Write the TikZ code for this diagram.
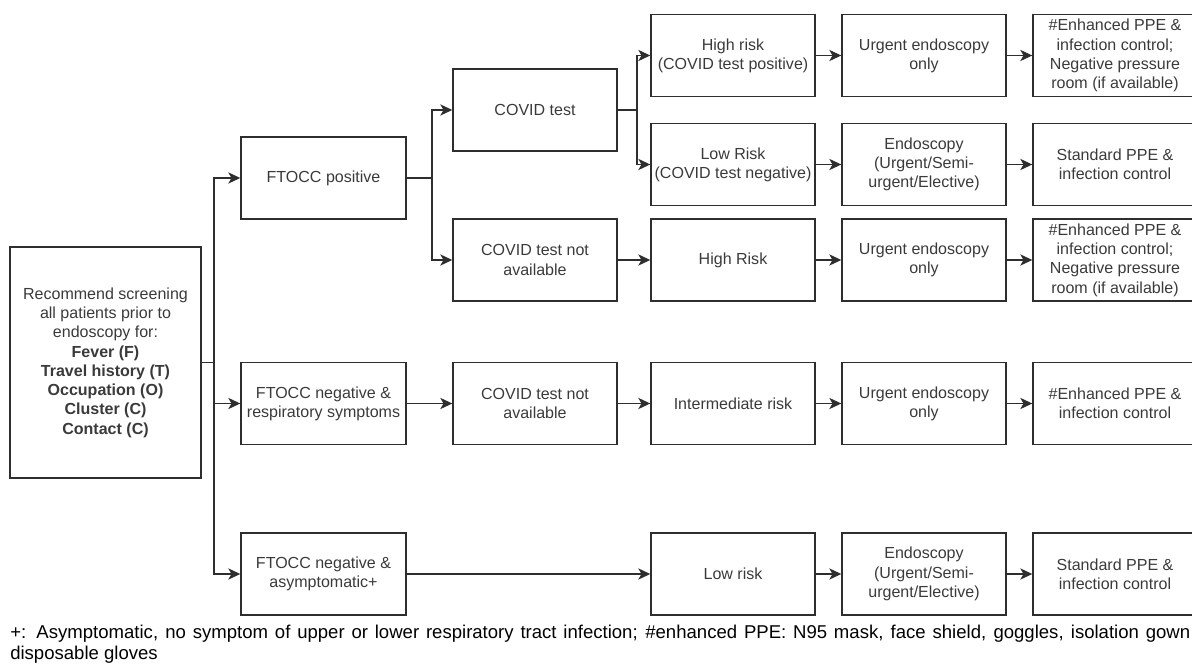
\documentclass[tikz,border=0pt]{standalone}
\usepackage{fontspec}
\setmainfont{Liberation Sans}
\usetikzlibrary{arrows.meta}
\definecolor{linegray}{HTML}{2E2E2E}
\definecolor{textgray}{HTML}{3A3A3A}

\begin{document}
\begin{tikzpicture}[x=1cm,y=1cm,
  box/.style={draw=linegray, line width=1pt, minimum width=4.1cm, minimum height=2.05cm,
    inner sep=0pt, align=center, text=textgray, font=\fontsize{11.4}{13.7}\selectfont},
  arr/.style={draw=linegray, line width=1pt, -{Stealth[length=0.3cm,width=0.28cm,inset=0.08cm]}},
  link/.style={draw=linegray, line width=1pt}]
\useasboundingbox (0,0) rectangle (29.8,16.6);

% screening
\node[box, minimum width=4.775cm, minimum height=5.775cm] (screen) at (2.6375,7.5375)
  {Recommend screening\\all patients prior to\\endoscopy for:\\\textbf{Fever (F)}\\
   \textbf{Travel history (T)}\\\textbf{Occupation (O)}\\\textbf{Cluster (C)}\\\textbf{Contact (C)}};

% FTOCC groups
\node[box, minimum width=4.125cm] (ftpos) at (8.0875,12.15) {FTOCC positive};
\node[box, minimum width=4.125cm] (ftresp) at (8.0875,6.5125) {FTOCC negative \&\\respiratory symptoms};
\node[box, minimum width=4.125cm] (ftasym) at (8.0875,2.25) {FTOCC negative \&\\asymptomatic+};

% tests
\node[box] (test) at (13.375,13.85) {COVID test};
\node[box] (notest) at (13.375,10.1) {COVID test not\\available};
\node[box] (notestb) at (13.375,6.5125) {COVID test not\\available};

% risk
\node[box] (hipos) at (18.325,15.2125) {High risk\\(COVID test positive)};
\node[box] (loneg) at (18.325,12.4875) {Low Risk\\(COVID test negative)};
\node[box] (hirisk) at (18.325,10.1) {High Risk};
\node[box] (midrisk) at (18.325,6.5125) {Intermediate risk};
\node[box] (lorisk) at (18.325,2.25) {Low risk};

% endoscopy
\node[box] (endoa) at (23.1,15.2125) {Urgent endoscopy\\only};
\node[box] (endob) at (23.1,12.4875) {Endoscopy\\(Urgent/Semi-\\urgent/Elective)};
\node[box] (endoc) at (23.1,10.1) {Urgent endoscopy\\only};
\node[box] (endod) at (23.1,6.5125) {Urgent endoscopy\\only};
\node[box] (endoe) at (23.1,2.25) {Endoscopy\\(Urgent/Semi-\\urgent/Elective)};

% PPE
\node[box] (ppea) at (27.875,15.2125) {\#Enhanced PPE \&\\infection control;\\Negative pressure\\room (if available)};
\node[box] (ppeb) at (27.875,12.4875) {Standard PPE \&\\infection control};
\node[box] (ppec) at (27.875,10.1) {\#Enhanced PPE \&\\infection control;\\Negative pressure\\room (if available)};
\node[box] (pped) at (27.875,6.5125) {\#Enhanced PPE \&\\infection control};
\node[box] (ppee) at (27.875,2.25) {Standard PPE \&\\infection control};

% branch points
\coordinate (ja) at (5.35,7.5375);
\coordinate (jb) at (10.8,12.15);
\coordinate (jc) at (15.925,13.85);

\draw[link] (screen.east) -- (ja);
\draw[arr] (ja) |- (ftpos.west);
\draw[arr] (ja) |- (ftresp.west);
\draw[arr] (ja) |- (ftasym.west);

\draw[link] (ftpos.east) -- (jb);
\draw[arr] (jb) |- (test.west);
\draw[arr] (jb) |- (notest.west);

\draw[link] (test.east) -- (jc);
\draw[arr] (jc) |- (hipos.west);
\draw[arr] (jc) |- (loneg.west);

\draw[arr] (notest) -- (hirisk);
\draw[arr] (ftresp) -- (notestb);
\draw[arr] (notestb) -- (midrisk);
\draw[arr] (ftasym) -- (lorisk);

\draw[arr] (hipos) -- (endoa);
\draw[arr] (loneg) -- (endob);
\draw[arr] (hirisk) -- (endoc);
\draw[arr] (midrisk) -- (endod);
\draw[arr] (lorisk) -- (endoe);

\draw[arr] (endoa) -- (ppea);
\draw[arr] (endob) -- (ppeb);
\draw[arr] (endoc) -- (ppec);
\draw[arr] (endod) -- (pped);
\draw[arr] (endoe) -- (ppee);

% footnote
\node[anchor=north west, inner sep=0pt, text width=29.5cm, align=justify,
  font=\fontsize{13.2}{15.2}\selectfont] (note) at (0.25,0.98)
  {+: Asymptomatic, no symptom of upper or lower respiratory tract infection; \#enhanced PPE: N95 mask, face shield, goggles, isolation gown\linebreak disposable gloves};
\end{tikzpicture}
\end{document}
